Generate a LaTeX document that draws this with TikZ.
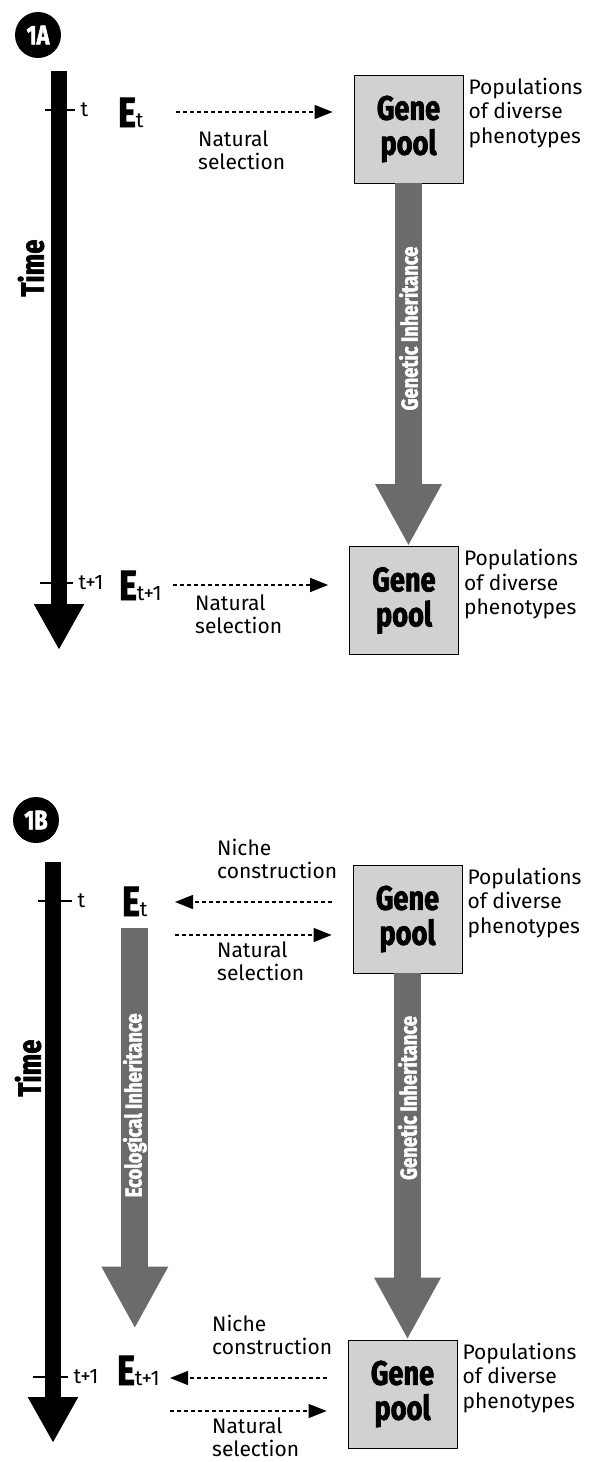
\documentclass[tikz,border=0pt]{standalone}
\usepackage{fontspec}
\setmainfont{Fira Sans}
\newfontfamily\heavy[FakeStretch=0.8,BoldFeatures={FakeBold=2}]{Fira Sans}
\usetikzlibrary{arrows.meta,positioning}

\begin{document}
\begin{tikzpicture}[x=1pt,y=-1pt,
  pool node/.style={rectangle,draw,line width=0.8pt,fill=black!18,minimum width=109pt,minimum height=108pt,inner sep=0pt,align=center,font=\heavy\bfseries\fontsize{34}{35}\selectfont},
  pop node/.style={anchor=north west,align=left,inner sep=0pt,font=\fontsize{21}{24.5}\selectfont},
  sel label/.style={anchor=north west,align=left,inner sep=0pt,font=\fontsize{21}{23}\selectfont},
  env node/.style={anchor=base west,inner sep=0pt,font=\fontsize{21}{21}\selectfont},
  tick label/.style={anchor=west,inner sep=0pt,font=\fontsize{21}{21}\selectfont},
  sel arrow/.style={line width=1.3pt,dash pattern=on 4pt off 3pt,-{Triangle[length=18pt,width=14pt]}},
  time arrow/.style={line width=16pt,-{Triangle[length=46pt,width=47pt]}},
  inherit arrow/.style={line width=27pt,draw=black!58,-{Triangle[length=62pt,width=62pt]}},
  inherit text/.style={rotate=90,text=white,font=\heavy\bfseries\fontsize{23}{23}\selectfont},
  tick mark/.style={line width=1.1pt},
  badge node/.style={circle,fill=black,text=white,minimum size=46pt,inner sep=0pt,font=\heavy\bfseries\fontsize{27}{27}\selectfont},
  time label/.style={rotate=90,font=\heavy\bfseries\fontsize{32}{32}\selectfont}]

\newcommand{\bigE}{{\heavy\bfseries\fontsize{42}{42}\selectfont E}}

\useasboundingbox (0,0) rectangle (593,1462);

% gene pools
\foreach \name/\x/\y in {poolA1/408.5/129, poolA2/404/600.5, poolB1/407.5/919, poolB2/402.5/1394}
{
  \node[pool node] (\name) at (\x,\y) {Gene\\pool};
  \node[pop node] (\name pop) at ([shift={(5,3)}]\name.north east) {Populations\\of diverse\\phenotypes};
}

% panel 1A
\node[badge node] (1A) at (38,35) {1A};
\coordinate (timeA top) at (59,71);
\coordinate (timeA tip) at (59,650);
\draw[time arrow] (timeA top) -- (timeA tip);
\node[time label] (timeA) at (31,268) {Time};

\draw[tick mark] (45,110) -- (75,110) node[tick label,right=5pt] (tA) {t};
\draw[tick mark] (40,583) -- (73,583) node[tick label,right=5pt] (tA1) {t+1};

\node[env node] (EA) at (118,127) {\bigE t};
\node[env node] (EA1) at (119,600) {\bigE t+1};

\coordinate (nsA) at (176,112);
\coordinate (nsA1) at (173,585);
\draw[sel arrow,shorten >=21pt] (nsA) -- (poolA1.west |- nsA);
\draw[sel arrow,shorten >=21pt] (nsA1) -- (poolA2.west |- nsA1);
\node[sel label,below right=19pt and 22pt of nsA] (nsA label) {Natural\\selection};
\node[sel label,below right=10pt and 22pt of nsA1] (nsA1 label) {Natural\\selection};

\draw[inherit arrow] (poolA1.south) -- (poolA1.south |- poolA2.north)
  node[inherit text,pos=0.4] {Genetic Inheritance};

% panel 1B
\node[badge node] (1B) at (36,820) {1B};
\coordinate (timeB top) at (53,862);
\coordinate (timeB tip) at (53,1443);
\draw[time arrow] (timeB top) -- (timeB tip);
\node[time label] (timeB) at (28,1068) {Time};

\draw[tick mark] (38,901) -- (72,901) node[tick label,right=5pt] (tB) {t};
\draw[tick mark] (33,1377) -- (68,1377) node[tick label,right=5pt] (tB1) {t+1};

\node[env node] (EB) at (122,916) {\bigE t};
\node[env node] (EB1) at (117,1385) {\bigE t+1};

\coordinate (niB) at (175,902);
\coordinate (nsB) at (175,935);
\coordinate (niB1) at (170,1378);
\coordinate (nsB1) at (170,1411);
\draw[sel arrow,shorten <=21pt] (poolB1.west |- niB) -- (niB);
\draw[sel arrow,shorten >=21pt] (nsB) -- (poolB1.west |- nsB);
\draw[sel arrow,shorten <=21pt] (poolB2.west |- niB1) -- (niB1);
\draw[sel arrow,shorten >=21pt] (nsB1) -- (poolB2.west |- nsB1);
\node[sel label,above right=23pt and 42pt of niB] (niB label) {Niche\\construction};
\node[sel label,below right=7pt and 42pt of nsB] (nsB label) {Natural\\selection};
\node[sel label,above right=23pt and 42pt of niB1] (niB1 label) {Niche\\construction};
\node[sel label,below right=7pt and 42pt of nsB1] (nsB1 label) {Natural\\selection};

\draw[inherit arrow,shorten <=12pt,shorten >=27pt] (EB.south) -- (EB.south |- EB1.north)
  node[inherit text,pos=0.43] {Ecological Inheritance};
\draw[inherit arrow] (poolB1.south) -- (poolB1.south |- poolB2.north)
  node[inherit text,pos=0.34] {Genetic Inheritance};

\end{tikzpicture}
\end{document}
